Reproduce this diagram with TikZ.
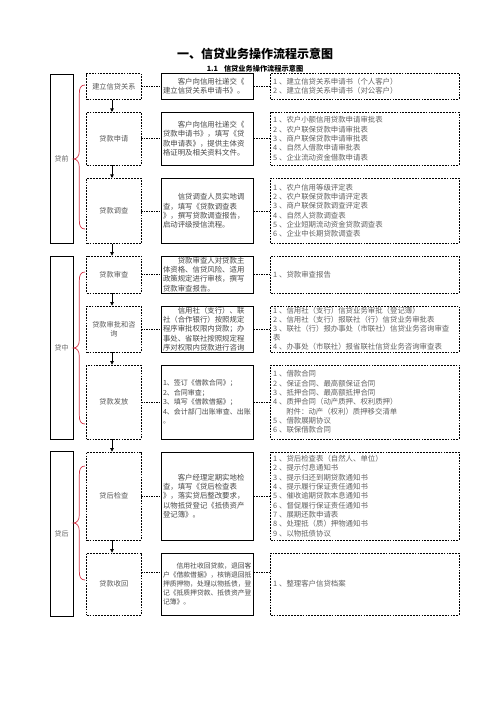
\documentclass[tikz,border=0pt]{standalone}
\usepackage{fontspec}
\setmainfont{Noto Sans CJK SC}
\usetikzlibrary{arrows.meta}
\definecolor{bracered}{RGB}{214,52,72}
\newcommand\itemnum[1]{#1\kern2pt、}
\begin{document}
\begin{tikzpicture}[x=1pt,y=-1pt,
  solidbox/.style={draw=black, line width=0.8pt, rectangle, inner ysep=0pt},
  dashbox/.style={draw=black, line width=0.7pt, dash pattern=on 1.8pt off 1.1pt, rectangle, inner ysep=0pt},
  stagebox/.style={solidbox, minimum width=23pt, inner xsep=0pt, font=\fontsize{7}{9}\selectfont, text=black!60},
  namebox/.style={dashbox, minimum width=54.3pt, inner xsep=0pt, font=\fontsize{7.2}{9.2}\selectfont, text=black!65, align=center},
  descbox/.style={solidbox, minimum width=91.6pt, text width=89pt, inner xsep=1.3pt, font=\fontsize{7.4}{9.2}\selectfont, text=black!72, align=left},
  docbox/.style={dashbox, minimum width=188.3pt, text width=183.7pt, inner xsep=2.3pt, font=\fontsize{7.4}{9.3}\selectfont, text=black!62, align=left},
  conn/.style={draw=black, line width=0.6pt, dash pattern=on 1.5pt off 1pt},
  arr/.style={draw=black, line width=0.6pt, -{Triangle[length=3.5pt,width=3.5pt]}},
  bracestyle/.style={draw=bracered, line width=0.7pt},
  titlestyle/.style={font=\fontsize{12}{14}\selectfont\bfseries, text=black, inner sep=0pt},
  subtitlestyle/.style={font=\fontsize{7.2}{9}\selectfont\bfseries, text=black, inner sep=0pt}
]
\useasboundingbox (0,0) rectangle (496,702);

% titles
\node[titlestyle] (title) at (255,54) {一、信贷业务操作流程示意图};
\node[subtitlestyle] (subtitle) at (255,69) {1.1\hspace{6pt}信贷业务操作流程示意图};

% stage boxes
\node[stagebox, minimum height=169.3pt] (L1) at (61.5,158.65) {贷前};
\node[stagebox, minimum height=183pt] (L2) at (61.5,347.5) {贷中};
\node[stagebox, minimum height=165pt] (L3) at (61.5,533.5) {贷后};

% step names
\node[namebox, minimum height=25.8pt] (b1) at (113.85,86.4) {建立信贷关系};
\node[namebox, minimum height=52.7pt] (b2) at (113.85,138.65) {贷款申请};
\node[namebox, minimum height=65pt] (b3) at (113.85,210.8) {贷款调查};
\node[namebox, minimum height=37pt] (b4) at (113.85,274.5) {贷款审查};
\node[namebox, minimum height=46pt] (b5) at (113.85,329) {贷款审批和咨\\询};
\node[namebox, minimum height=74pt] (b6) at (113.85,402) {贷款发放};
\node[namebox, minimum height=88pt] (b7) at (113.85,496) {贷后检查};
\node[namebox, minimum height=62pt] (b8) at (113.85,584) {贷款收回};

% descriptions
\node[descbox, minimum height=25.8pt] (c1) at (207.5,86.4) {\hspace*{2em}客户向信用社递交《\\建立信贷关系申请书》。};
\node[descbox, minimum height=52.7pt] (c2) at (207.5,138.65) {\hspace*{2em}客户向信用社递交《\\贷款申请书》，填写《贷\\款申请表》，提供主体资\\格证明及相关资料文件。};
\node[descbox, minimum height=65pt] (c3) at (207.5,210.8) {\hspace*{2em}信贷调查人员实地调\\查，填写《贷款调查表\\》，撰写贷款调查报告，\\启动评级授信流程。};
\node[descbox, minimum height=37pt] (c4) at (207.5,274.5) {\hspace*{2em}贷款审查人对贷款主\\体资格、信贷风险、适用\\政策规定进行审核，撰写\\贷款审查报告。};
\node[descbox, minimum height=46pt] (c5) at (207.5,329) {\hspace*{2em}信用社（支行）、联\\社（合作银行）按照规定\\程序审批权限内贷款；办\\事处、省联社按照规定程\\序对权限内贷款进行咨询};
\node[descbox, minimum height=74pt, font=\fontsize{7}{9.5}\selectfont] (c6) at (207.5,402) {1、签订《借款合同》；\\2、合同审查；\\3、填写《借款借据》；\\4、会计部门出账审查、出账\\。};
\node[descbox, minimum height=88pt] (c7) at (207.5,496) {\hspace*{2em}客户经理定期实地检\\查，填写《贷后检查表\\》，落实贷后整改要求，\\以物抵贷登记《抵债资产\\登记簿》。};
\node[descbox, minimum height=62pt, font=\fontsize{6.8}{9}\selectfont] (c8) at (207.5,584) {\hspace*{2em}信用社收回贷款，退回客\\户《借款借据》，核销退回抵\\押质押物，处理以物抵债，登\\记《抵质押贷款、抵债资产登\\记簿》。};

% documents
\node[docbox, minimum height=25.8pt] (d1) at (364.85,86.4) {\itemnum{1}建立信贷关系申请书（个人客户）\\\itemnum{2}建立信贷关系申请书（对公客户）};
\node[docbox, minimum height=52.7pt] (d2) at (364.85,138.65) {\itemnum{1}农户小额信用贷款申请审批表\\\itemnum{2}农户联保贷款申请审批表\\\itemnum{3}商户联保贷款申请审批表\\\itemnum{4}自然人借款申请审批表\\\itemnum{5}企业流动资金借款申请表};
\node[docbox, minimum height=65pt] (d3) at (364.85,210.8) {\itemnum{1}农户信用等级评定表\\\itemnum{2}农户联保贷款申请评定表\\\itemnum{3}商户联保贷款调查评定表\\\itemnum{4}自然人贷款调查表\\\itemnum{5}企业短期流动资金贷款调查表\\\itemnum{6}企业中长期贷款调查表};
\node[docbox, minimum height=37pt] (d4) at (364.85,274.5) {\itemnum{1}贷款审查报告};
\node[docbox, minimum height=46pt, font=\fontsize{7.4}{9}\selectfont] (d5) at (364.85,329) {\itemnum{1}信用社（支行）信贷业务审批（登记簿）\\\itemnum{2}信用社（支行）报联社（行）信贷业务审批表\\\itemnum{3}联社（行）报办事处（市联社）信贷业务咨询审查\\表\\\itemnum{4}办事处（市联社）报省联社信贷业务咨询审查表};
\node[docbox, minimum height=74pt] (d6) at (364.85,402) {\itemnum{1}借款合同\\\itemnum{2}保证合同、最高额保证合同\\\itemnum{3}抵押合同、最高额抵押合同\\\itemnum{4}质押合同（动产质押、权利质押）\\\hspace*{1.8em}附件：动产（权利）质押移交清单\\\itemnum{5}借款展期协议\\\itemnum{6}联保借款合同};
\node[docbox, minimum height=88pt] (d7) at (364.85,496) {\itemnum{1}贷后检查表（自然人、单位）\\\itemnum{2}提示付息通知书\\\itemnum{3}提示归还到期贷款通知书\\\itemnum{4}提示履行保证责任通知书\\\itemnum{5}催收逾期贷款本息通知书\\\itemnum{6}督促履行保证责任通知书\\\itemnum{7}展期还款申请表\\\itemnum{8}处理抵（质）押物通知书\\\itemnum{9}以物抵债协议};
\node[docbox, minimum height=62pt] (d8) at (364.85,584) {\itemnum{1}整理客户信贷档案};

% horizontal dashed connectors
\foreach \i in {1,...,7} {
  \draw[conn] (b\i) -- (c\i);
  \draw[conn] (c\i) -- (d\i);
}
\coordinate (k8) at (0,572);
\draw[conn] (b8.east |- k8) -- (c8.west |- k8);
\draw[conn] (c8.east |- k8) -- (d8.west |- k8);

% vertical arrows
\coordinate (ax) at (112,0);
\foreach \i/\j in {1/2,2/3,3/4,4/5,5/6,6/7,7/8} {
  \draw[arr] (b\i.south -| ax) -- (b\j.north -| ax);
}

% red braces
\foreach \yt/\yc/\yb in {85/159/229, 272/348/424, 466/523/580} {
  \draw[bracestyle] (85,\yt) .. controls (80.6,\yt) and (79.3,\yt+3) .. (79.3,\yt+9)
    -- (79.3,\yc-8) .. controls (79.3,\yc-3) and (77,\yc) .. (73.3,\yc)
    .. controls (77,\yc) and (79.3,\yc+3) .. (79.3,\yc+8)
    -- (79.3,\yb-9) .. controls (79.3,\yb-3) and (80.6,\yb) .. (85,\yb);
}
\end{tikzpicture}
\end{document}
